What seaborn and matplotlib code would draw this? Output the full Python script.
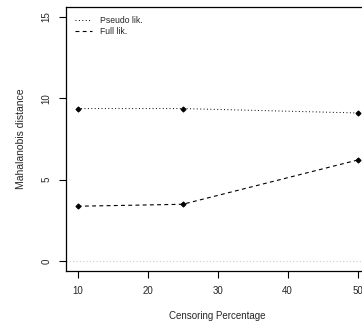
import matplotlib
matplotlib.use("Agg")
import matplotlib.pyplot as plt
import seaborn as sns
import pandas as pd

censoring = [10, 25, 50]
pseudo_lik = [9.36, 9.36, 9.09]
full_lik = [3.36, 3.48, 6.20]
x_ticks = [10, 20, 30, 40, 50]
y_ticks = [0, 5, 10, 15]

sns.set_style("ticks")
plt.rcParams['font.family'] = ['Liberation Sans', 'DejaVu Sans']

fig = plt.figure(figsize=(3.62, 3.27), dpi=100)
ax = fig.add_axes([0.1837, 0.1722, 1.019 - 0.1837, 0.9786 - 0.1722])

df_p = pd.DataFrame({"x": censoring, "y": pseudo_lik})
df_f = pd.DataFrame({"x": censoring, "y": full_lik})

ax.axhline(0, color="#cccccc", linestyle=(0, (1, 2)), linewidth=0.8, zorder=1)
sns.lineplot(data=df_p, x="x", y="y", ax=ax, color="black", linewidth=0.7,
             linestyle=(0, (1, 2.5)), marker="D", markersize=2.6,
             markeredgecolor="black", label="Pseudo lik.")
sns.lineplot(data=df_f, x="x", y="y", ax=ax, color="black", linewidth=0.8,
             linestyle=(0, (3.5, 3)), marker="D", markersize=2.6,
             markeredgecolor="black", label="Full lik.")

ax.set_xlim(8.4, 51.6)
ax.set_ylim(-0.6, 15.6)
ax.set_xticks(x_ticks)
ax.set_yticks(y_ticks)
ax.set_xticklabels([str(v) for v in x_ticks], fontsize=7)
ax.set_yticklabels([str(v) for v in y_ticks], fontsize=7, rotation=90, va="center")
ax.tick_params(axis="both", direction="out", length=5, width=0.8, color="black", pad=6)
ax.set_xlabel("Censoring Percentage", fontsize=7, labelpad=11)
ax.set_ylabel("Mahalanobis distance", fontsize=7.5, labelpad=11)
for s in ax.spines.values():
    s.set_visible(True)
    s.set_linewidth(0.9)
    s.set_color("black")

leg = ax.legend(loc="upper left", frameon=False, fontsize=6.2, handlelength=2.0,
                borderaxespad=0.6, labelspacing=0.25, handletextpad=0.9,
                borderpad=0.4)
for h in leg.get_lines():
    h.set_marker("")

fig.savefig("out.png", dpi=100)
